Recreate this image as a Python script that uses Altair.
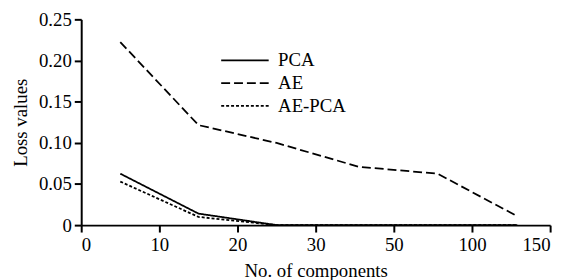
import altair as alt
import pandas as pd

components = [5, 15, 25, 41, 78, 129]
pca = [0.0625, 0.0140, 0.0, 0.0, 0.0, 0.0]
ae = [0.2224, 0.1215, 0.0998, 0.0709, 0.0625, 0.0108]
ae_pca = [0.0529, 0.0100, 0.0, 0.0, 0.0, 0.0]

series_names = ["PCA", "AE", "AE-PCA"]
x_ticks = [0, 10, 20, 30, 50, 100, 150]
y_ticks = [0, 0.05, 0.10, 0.15, 0.20, 0.25]

rows = []
for name, vals in zip(series_names, [pca, ae, ae_pca]):
    for c, v in zip(components, vals):
        rows.append({"components": c, "loss": v, "method": name})
df = pd.DataFrame(rows)

W = 474
H = 208
FONT = "Liberation Serif"
FS = 19
x_range = [W * i / (len(x_ticks) - 1) for i in range(len(x_ticks))]

chart = alt.Chart(df).mark_line(clip=False).encode(
    x=alt.X("components:Q",
            scale=alt.Scale(domain=x_ticks, range=x_range),
            axis=alt.Axis(values=x_ticks, title="No. of components", grid=False,
                          labelPadding=4, titlePadding=7)),
    y=alt.Y("loss:Q",
            scale=alt.Scale(domain=[0, 0.25], nice=False),
            axis=alt.Axis(values=y_ticks, title="Loss values", grid=False,
                          labelExpr="datum.value == 0 ? '0' : format(datum.value, '.2f')",
                          labelPadding=3, titlePadding=8)),
    strokeDash=alt.StrokeDash("method:N",
                              scale=alt.Scale(domain=series_names,
                                              range=[[1, 0], [9, 4], [3, 2]]),
                              legend=alt.Legend(title=None, orient="none",
                                                legendX=156, legendY=32,
                                                symbolType="M-3,0H3",
                                                symbolSize=256,
                                                symbolStrokeColor="black",
                                                symbolStrokeWidth=1.8,
                                                labelFontSize=FS,
                                                labelFont=FONT,
                                                labelOffset=24,
                                                rowPadding=3,
                                                padding=0)),
    detail="method:N",
    order=alt.Order("components:Q"),
).properties(
    width=W, height=H,
    autosize=alt.AutoSizeParams(type="none"),
    padding={"left": 74, "top": 10, "right": 12, "bottom": 54},
).configure_mark(
    color="black", strokeWidth=1.8
).configure_view(
    stroke=None
).configure_axis(
    domainColor="black", domainWidth=2, tickColor="black", tickWidth=2, tickSize=7,
    labelColor="black", labelFont=FONT, labelFontSize=FS,
    titleColor="black", titleFont=FONT, titleFontSize=FS, titleFontWeight="normal",
).configure_legend(
    labelColor="black"
)

chart.save("out.html", embed_options={"renderer": "svg", "actions": False})
